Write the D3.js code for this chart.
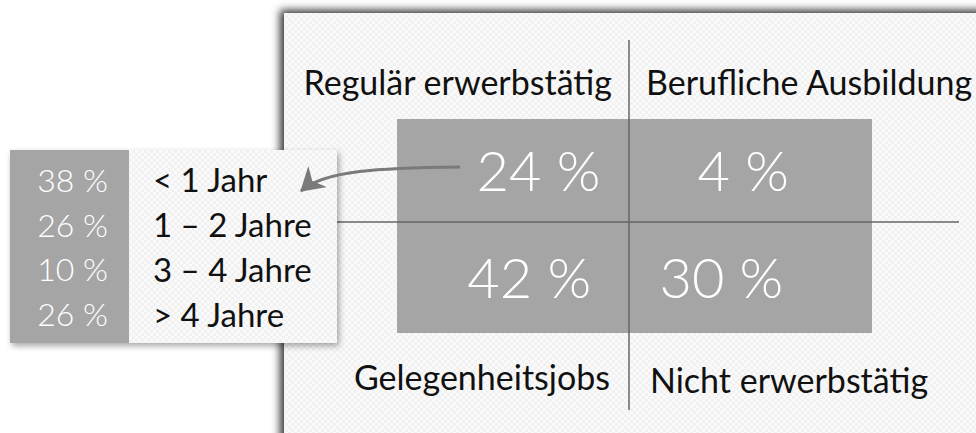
<!DOCTYPE html>
<html>
<head>
<meta charset="utf-8">
<script src="https://cdn.jsdelivr.net/npm/d3@7"></script>
<style>
    body { margin: 0; background: #fff; }
    svg { display: block; font-family: Lato, "Open Sans", sans-serif; }
</style>
</head>
<body>
<div id="chart"></div>
<script>
// Anteile nach Situation (2x2 Felder, Reihenfolge: oben links, oben rechts, unten links, unten rechts)
const quadrantNames = ['Regulär erwerbstätig', 'Berufliche Ausbildung', 'Gelegenheitsjobs', 'Nicht erwerbstätig']
const quadrantShares = [24, 4, 42, 30]
const quadrantCols = [-1, 1, -1, 1]
const quadrantRows = [1, 1, -1, -1]

// Dauer (Legende links)
const durationLabels = ['< 1 Jahr', '1 – 2 Jahre', '3 – 4 Jahre', '> 4 Jahre']
const durationShares = [38, 26, 10, 26]

const width = 976
const height = 433
const grey = '#a5a5a5'
const lineColor = '#666'

const svg = d3.select('#chart').append('svg')
    .attr('width', width)
    .attr('height', height)
    .attr('viewBox', `0 0 ${width} ${height}`)

const defs = svg.append('defs')

// leichtes Karomuster im Hintergrund
const pat = defs.append('pattern')
    .attr('id', 'checker')
    .attr('width', 6).attr('height', 6)
    .attr('patternUnits', 'userSpaceOnUse')
pat.append('rect').attr('width', 6).attr('height', 6).attr('fill', '#fafafa')
pat.append('rect').attr('width', 3).attr('height', 3).attr('fill', '#f1f1f1')
pat.append('rect').attr('x', 3).attr('y', 3).attr('width', 3).attr('height', 3).attr('fill', '#f1f1f1')

defs.append('filter')
    .attr('id', 'panelShadow')
    .attr('x', '-10%').attr('y', '-10%').attr('width', '120%').attr('height', '120%')
    .append('feDropShadow')
    .attr('dx', -4).attr('dy', -3).attr('stdDeviation', 4)
    .attr('flood-color', '#000').attr('flood-opacity', 0.8)

defs.append('filter')
    .attr('id', 'boxShadow')
    .attr('x', '-10%').attr('y', '-10%').attr('width', '120%').attr('height', '130%')
    .append('feDropShadow')
    .attr('dx', 2).attr('dy', 3).attr('stdDeviation', 3)
    .attr('flood-color', '#000').attr('flood-opacity', 0.35)

defs.append('marker')
    .attr('id', 'arrowHead')
    .attr('markerUnits', 'userSpaceOnUse')
    .attr('viewBox', '0 0 24 28')
    .attr('markerWidth', 24).attr('markerHeight', 28)
    .attr('refX', 22).attr('refY', 14)
    .attr('orient', 'auto')
    .append('path')
    .attr('d', 'M0,0 L23,14 L0,28 L7,14 Z')
    .attr('fill', '#7a7a7a')

// Hintergrundfläche
svg.append('rect')
    .attr('x', 284).attr('y', 13)
    .attr('width', width).attr('height', height)
    .attr('fill', 'url(#checker)')
    .attr('filter', 'url(#panelShadow)')

// Skalen: -1 .. 1 auf beiden Achsen, Kreuz bei 0
const xScale = d3.scaleLinear().domain([-1, 0, 1]).range([397, 629, 872])
const yScale = d3.scaleLinear().domain([-1, 0, 1]).range([333, 222, 119])

// graue Matrix
svg.append('rect')
    .attr('x', xScale(-1)).attr('y', yScale(1))
    .attr('width', xScale(1) - xScale(-1))
    .attr('height', yScale(-1) - yScale(1))
    .attr('fill', grey)

// Achsenkreuz
svg.append('line')
    .attr('x1', xScale(0)).attr('x2', xScale(0))
    .attr('y1', 40).attr('y2', 410)
    .attr('stroke', lineColor).attr('stroke-width', 1.5)
svg.append('line')
    .attr('x1', 300).attr('x2', 959)
    .attr('y1', yScale(0)).attr('y2', yScale(0))
    .attr('stroke', lineColor).attr('stroke-width', 1.5)

const cells = quadrantNames.map((name, i) => ({
    name,
    value: quadrantShares[i],
    col: quadrantCols[i],
    row: quadrantRows[i]
}))

// Prozentwerte in den Feldern (leicht zur Mitte versetzt wie im Original)
const valueShift = [0.11, -0.03, 0.07, -0.12]
svg.append('g')
    .selectAll('text')
    .data(cells)
    .join('text')
    .attr('x', (d, i) => xScale(d.col * 0.5 + valueShift[i]))
    .attr('y', d => yScale(d.row * 0.5))
    .attr('dy', '0.36em')
    .attr('text-anchor', 'middle')
    .attr('fill', '#fff')
    .attr('font-weight', 300)
    .attr('font-size', 56)
    .text(d => `${d.value} %`)

// Feldbeschriftungen
svg.append('g')
    .selectAll('text')
    .data(cells)
    .join('text')
    .attr('x', d => xScale(0) + d.col * (d.row > 0 ? 17 : (d.col < 0 ? 19 : 21)))
    .attr('y', d => d.row > 0 ? 95 : (d.col < 0 ? 390 : 393))
    .attr('text-anchor', d => d.col < 0 ? 'end' : 'start')
    .attr('fill', '#111')
    .attr('font-size', 34)
    .text(d => d.name)

// Legende: Dauer
const legend = svg.append('g')
const boxX = 10, boxY = 150, boxW = 327, boxH = 193, valW = 119
legend.append('rect')
    .attr('x', boxX).attr('y', boxY)
    .attr('width', boxW).attr('height', boxH)
    .attr('fill', 'url(#checker)')
    .attr('filter', 'url(#boxShadow)')
legend.append('rect')
    .attr('x', boxX).attr('y', boxY)
    .attr('width', valW).attr('height', boxH)
    .attr('fill', grey)

const rowScale = d3.scaleBand()
    .domain(durationLabels)
    .range([boxY + 8, boxY + boxH - 6])

legend.append('g')
    .selectAll('text')
    .data(durationShares)
    .join('text')
    .attr('x', boxX + valW - 21)
    .attr('y', (d, i) => rowScale(durationLabels[i]) + rowScale.bandwidth() / 2)
    .attr('dy', '0.36em')
    .attr('text-anchor', 'end')
    .attr('fill', '#fff')
    .attr('font-weight', 300)
    .attr('font-size', 32)
    .text(d => `${d} %`)

legend.append('g')
    .selectAll('text')
    .data(durationLabels)
    .join('text')
    .attr('x', boxX + valW + 24)
    .attr('y', d => rowScale(d) + rowScale.bandwidth() / 2)
    .attr('dy', '0.36em')
    .attr('fill', '#111')
    .attr('font-size', 33)
    .text(d => d)

// Pfeil vom Feld "Regulär erwerbstätig" zur Legende
const p = d3.path()
p.moveTo(460, 167)
p.bezierCurveTo(380, 168, 325, 170, 301, 191)
svg.append('path')
    .attr('d', p.toString())
    .attr('fill', 'none')
    .attr('stroke', '#7a7a7a')
    .attr('stroke-width', 3)
    .attr('marker-end', 'url(#arrowHead)')
</script>
</body>
</html>
